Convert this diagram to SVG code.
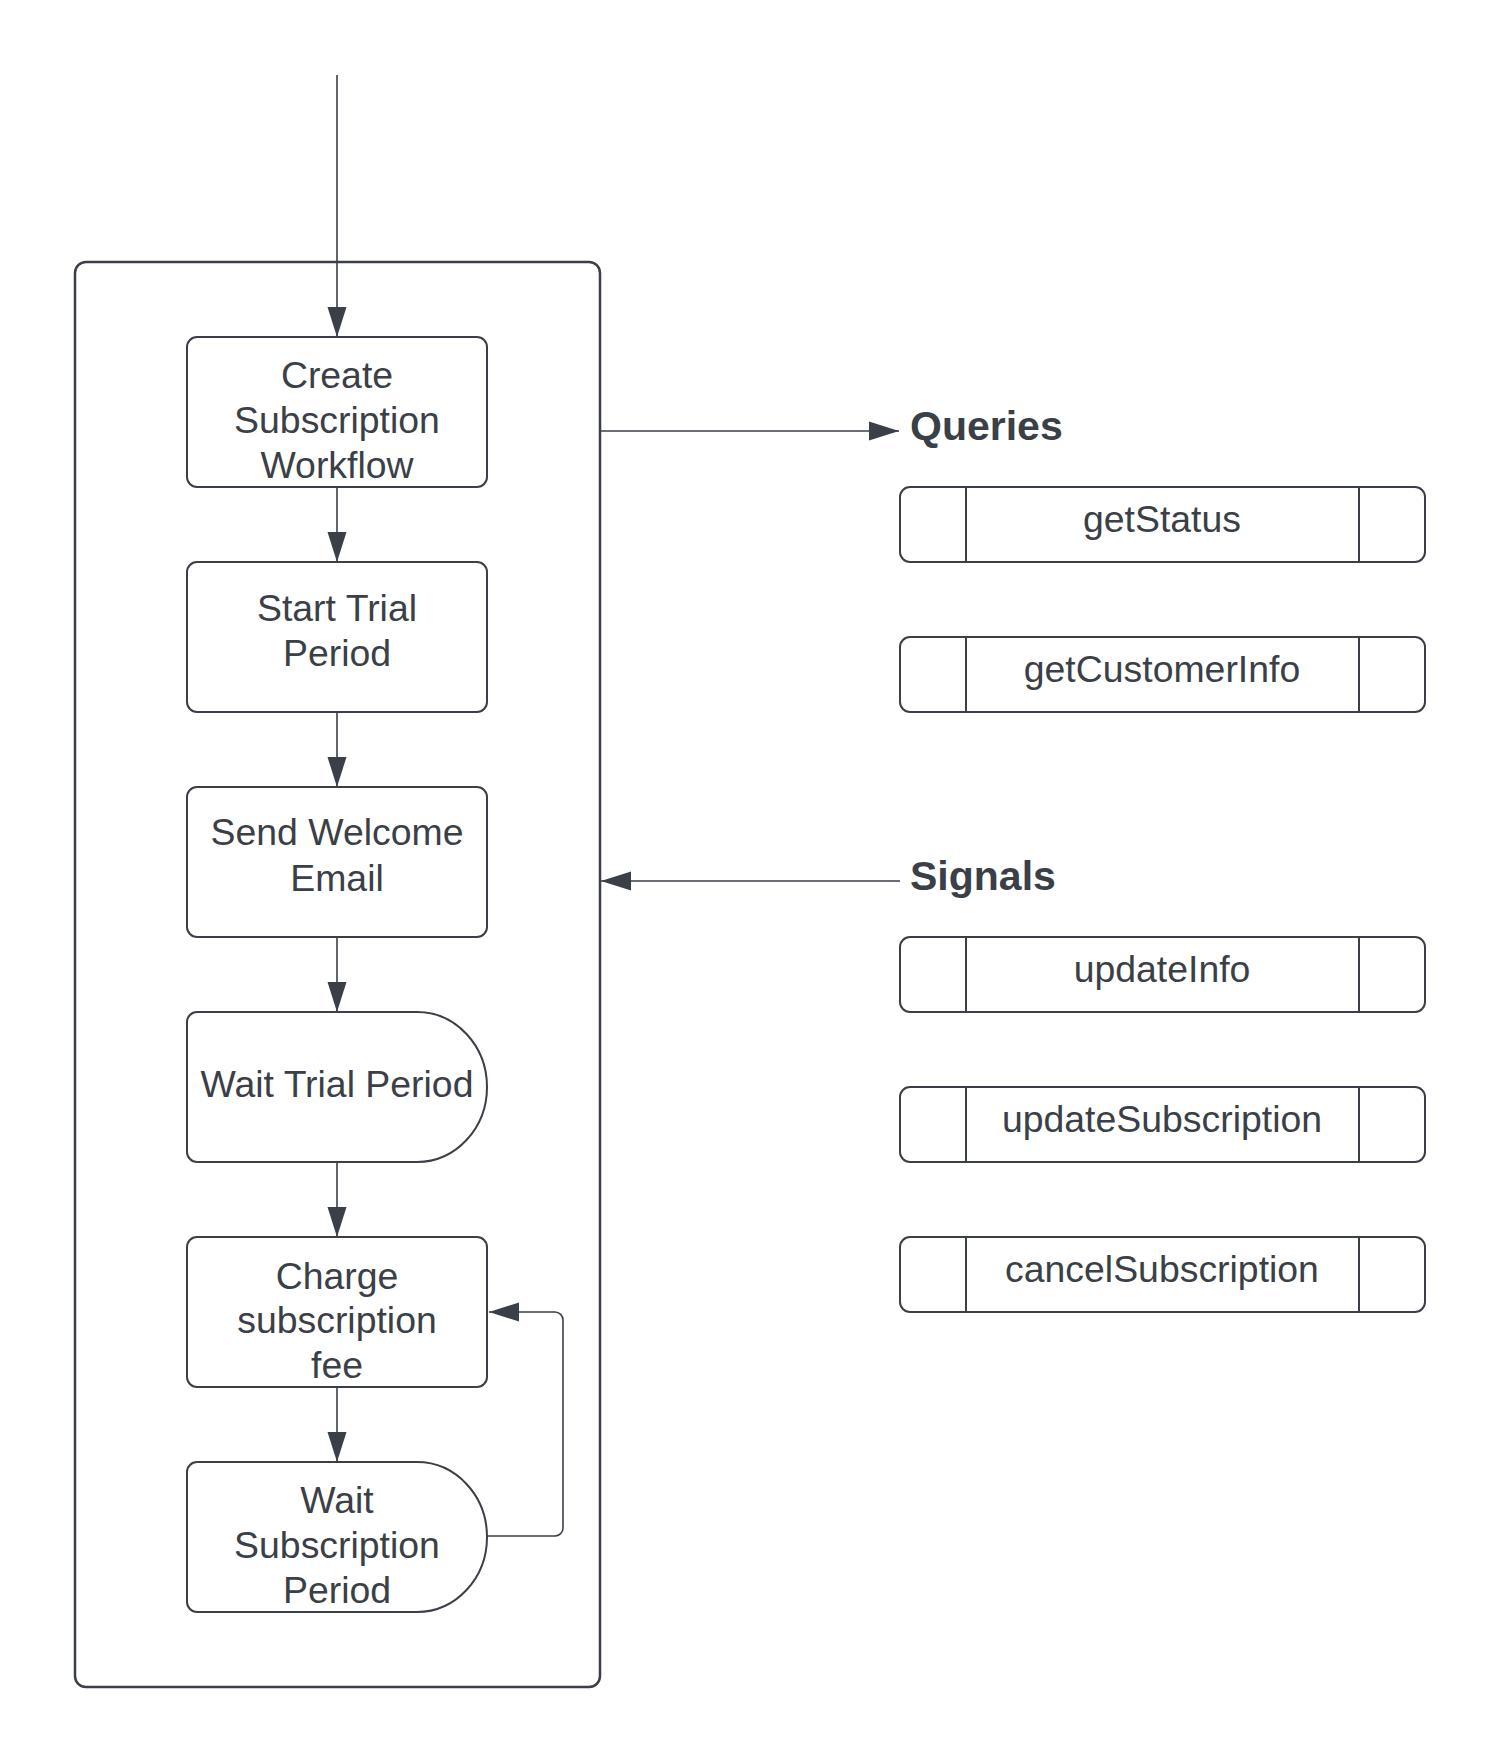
<svg xmlns="http://www.w3.org/2000/svg" width="1500" height="1763" viewBox="0 0 1500 1763">
<style>
.bg{fill:#ffffff}
.node{fill:#ffffff;stroke:#3a3f48;stroke-width:2}
.cont{fill:#ffffff;stroke:#3a3f48;stroke-width:2.5}
.line{fill:none;stroke:#3a3f48;stroke-width:1.6}
.div{stroke:#3a3f48;stroke-width:2}
.t{font-family:"Liberation Sans",Arial,sans-serif;font-size:37.4px;fill:#3a3f48;text-anchor:middle}
.h{font-family:"Liberation Sans",Arial,sans-serif;font-size:41px;font-weight:bold;fill:#3a3f48}
</style>
<defs>
<marker id="ah" markerWidth="30" markerHeight="20" refX="30" refY="10" orient="auto" markerUnits="userSpaceOnUse">
<path d="M0,0.5 L30,10 L0,19.5 Z" fill="#3a3f48"/>
</marker>
</defs>
<rect class="bg" x="0" y="0" width="1500" height="1763"/>
<g id="container">
<rect class="cont" x="75" y="262" width="525" height="1425" rx="11"/>
</g>
<g id="create">
<rect class="node" x="187" y="337" width="300" height="150" rx="10"/>
<text class="t" x="337" y="388">Create</text>
<text class="t" x="337" y="433">Subscription</text>
<text class="t" x="337" y="478">Workflow</text>
</g>
<g id="startTrial">
<rect class="node" x="187" y="562" width="300" height="150" rx="10"/>
<text class="t" x="337" y="621">Start Trial</text>
<text class="t" x="337" y="666">Period</text>
</g>
<g id="sendWelcome">
<rect class="node" x="187" y="787" width="300" height="150" rx="10"/>
<text class="t" x="337" y="845">Send Welcome</text>
<text class="t" x="337" y="891">Email</text>
</g>
<g id="waitTrial">
<path class="node" d="M197,1012 H417 A70,75 0 0 1 417,1162 H197 A10,10 0 0 1 187,1152 V1022 A10,10 0 0 1 197,1012 Z"/>
<text class="t" x="337" y="1097">Wait Trial Period</text>
</g>
<g id="charge">
<rect class="node" x="187" y="1237" width="300" height="150" rx="10"/>
<text class="t" x="337" y="1289">Charge</text>
<text class="t" x="337" y="1333">subscription</text>
<text class="t" x="337" y="1378">fee</text>
</g>
<g id="waitSub">
<path class="node" d="M197,1462 H417 A70,75 0 0 1 417,1612 H197 A10,10 0 0 1 187,1602 V1472 A10,10 0 0 1 197,1462 Z"/>
<text class="t" x="337" y="1513">Wait</text>
<text class="t" x="337" y="1558">Subscription</text>
<text class="t" x="337" y="1603">Period</text>
</g>
<g id="queriesLabel">
<text class="h" x="910" y="440">Queries</text>
</g>
<g id="signalsLabel">
<text class="h" x="910" y="890">Signals</text>
</g>
<g id="getStatus">
<rect class="node" x="900" y="487" width="525" height="75" rx="10"/>
<line class="div" x1="966" y1="487" x2="966" y2="562"/>
<line class="div" x1="1359" y1="487" x2="1359" y2="562"/>
<text class="t" x="1162" y="532">getStatus</text>
</g>
<g id="getCustomerInfo">
<rect class="node" x="900" y="637" width="525" height="75" rx="10"/>
<line class="div" x1="966" y1="637" x2="966" y2="712"/>
<line class="div" x1="1359" y1="637" x2="1359" y2="712"/>
<text class="t" x="1162" y="682">getCustomerInfo</text>
</g>
<g id="updateInfo">
<rect class="node" x="900" y="937" width="525" height="75" rx="10"/>
<line class="div" x1="966" y1="937" x2="966" y2="1012"/>
<line class="div" x1="1359" y1="937" x2="1359" y2="1012"/>
<text class="t" x="1162" y="982">updateInfo</text>
</g>
<g id="updateSubscription">
<rect class="node" x="900" y="1087" width="525" height="75" rx="10"/>
<line class="div" x1="966" y1="1087" x2="966" y2="1162"/>
<line class="div" x1="1359" y1="1087" x2="1359" y2="1162"/>
<text class="t" x="1162" y="1132">updateSubscription</text>
</g>
<g id="cancelSubscription">
<rect class="node" x="900" y="1237" width="525" height="75" rx="10"/>
<line class="div" x1="966" y1="1237" x2="966" y2="1312"/>
<line class="div" x1="1359" y1="1237" x2="1359" y2="1312"/>
<text class="t" x="1162" y="1282">cancelSubscription</text>
</g>
<g id="connectors">
<path class="line" d="M337,75 V337" marker-end="url(#ah)"/>
<path class="line" d="M337,487 V562" marker-end="url(#ah)"/>
<path class="line" d="M337,712 V787" marker-end="url(#ah)"/>
<path class="line" d="M337,937 V1012" marker-end="url(#ah)"/>
<path class="line" d="M337,1162 V1237" marker-end="url(#ah)"/>
<path class="line" d="M337,1387 V1462" marker-end="url(#ah)"/>
<path class="line" d="M487,1536 H555 A8,8 0 0 0 563,1528 V1320 A8,8 0 0 0 555,1312 H489" marker-end="url(#ah)"/>
<path class="line" d="M601,431 H899" marker-end="url(#ah)"/>
<path class="line" d="M900,881 H601" marker-end="url(#ah)"/>
</g>
</svg>
